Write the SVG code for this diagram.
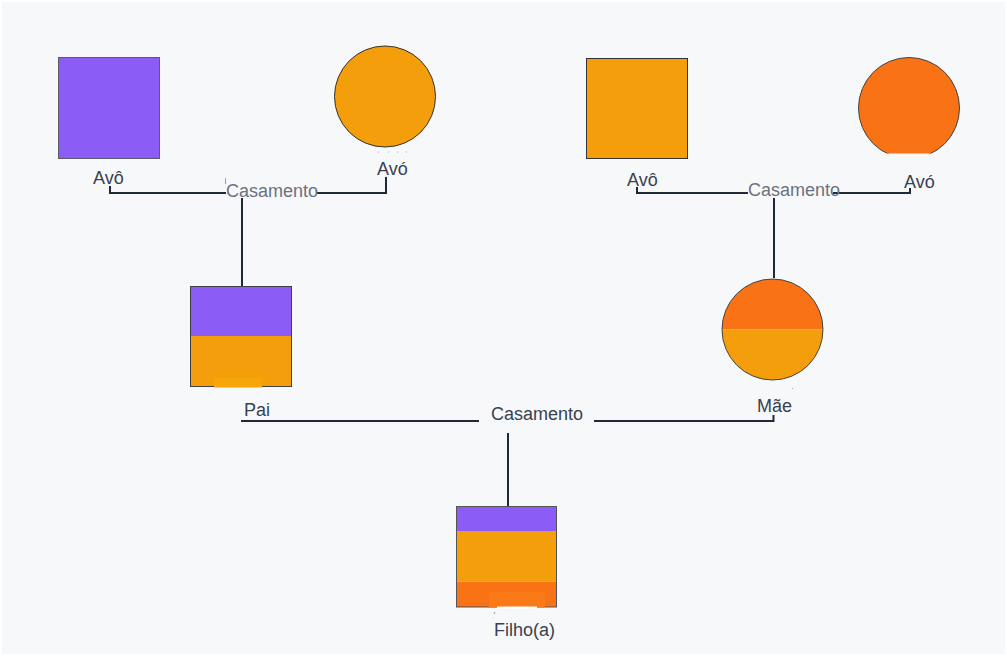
<svg xmlns="http://www.w3.org/2000/svg" width="1007" height="656" viewBox="0 0 1007 656">
  <style>
    .lbl { font-family: "Liberation Sans", Arial, sans-serif; font-size: 18px; fill: #374151; }
    .mar { font-family: "Liberation Sans", Arial, sans-serif; font-size: 18px; fill: #6b7280; }
    .mar2 { font-family: "Liberation Sans", Arial, sans-serif; font-size: 18px; fill: #374151; }
    .conn { stroke: #1f2937; stroke-width: 2; fill: none; }
    .edge { stroke: #3f3f46; stroke-width: 1; }
  </style>
  <defs>
    <clipPath id="clipMae"><circle cx="772.5" cy="329.5" r="50.5"/></clipPath>
    <clipPath id="clipAvo2"><rect x="850" y="50" width="120" height="103.5"/></clipPath>
  </defs>
  <rect x="0" y="0" width="1007" height="656" fill="#ffffff"/>
  <rect x="2" y="2" width="1003" height="652" fill="#f7f8fa"/>

  <g id="connectors">
    <path class="conn" d="M110,186 V193 H226"/>
    <path class="conn" d="M316,193 H386 V177"/>
    <path class="conn" d="M242,198 V286"/>
    <line x1="225.5" y1="178" x2="225.5" y2="184" stroke="#9ca3af" stroke-width="1"/>
    <path class="conn" d="M637,187 V193 H748"/>
    <path class="conn" d="M833,193 H910 V188"/>
    <path class="conn" d="M774,198 V278"/>
    <path class="conn" d="M241,421 H479"/>
    <path class="conn" d="M594,421 H773.5 V415"/>
    <path class="conn" d="M508,433 V506"/>
  </g>

  <g id="avo-paterno">
    <rect x="58.5" y="57.5" width="101" height="101" fill="#8b5cf6" stroke="#5b5b6b" stroke-width="1"/>
    <text class="lbl" x="93" y="183.5">Avô</text>
  </g>

  <g id="avo-paterna">
    <circle cx="385" cy="96.5" r="50.5" fill="#f59e0b" stroke="#333333" stroke-width="1"/>
    <g fill="#9ca3af">
      <rect x="378" y="151.5" width="1" height="1"/>
      <rect x="388" y="151.5" width="1" height="1"/>
      <rect x="397" y="151.5" width="1" height="1"/>
      <rect x="406" y="151.5" width="1" height="1"/>
    </g>
    <text class="lbl" x="377" y="175">Avó</text>
  </g>

  <g id="casamento-paterno">
    <text class="mar" x="226" y="197">Casamento</text>
  </g>

  <g id="avo-materno">
    <rect x="586.5" y="58.5" width="101" height="100" fill="#f59e0b" stroke="#333333" stroke-width="1"/>
    <text class="lbl" x="627" y="185.5">Avô</text>
  </g>

  <g id="avo-materna">
    <g clip-path="url(#clipAvo2)">
      <circle cx="909" cy="108" r="50.5" fill="#f97316" stroke="#444444" stroke-width="1"/>
    </g>
    <text class="lbl" x="904" y="187.5">Avó</text>
  </g>

  <g id="casamento-materno">
    <text class="mar" x="748" y="196">Casamento</text>
  </g>

  <g id="pai">
    <rect x="191" y="286" width="100" height="50" fill="#8b5cf6"/>
    <rect x="191" y="336" width="100" height="51" fill="#f59e0b"/>
    <rect x="190.5" y="286.5" width="101" height="100" fill="none" stroke="#3f3f46" stroke-width="1"/>
    <rect x="214" y="378" width="48" height="9.5" fill="#f6a609"/>
    <text class="lbl" x="244" y="415.5">Pai</text>
  </g>

  <g id="mae">
    <g clip-path="url(#clipMae)">
      <rect x="720" y="277" width="106" height="52.5" fill="#f97316"/>
      <rect x="720" y="329.5" width="106" height="53" fill="#f59e0b"/>
    </g>
    <circle cx="772.5" cy="329.5" r="50.5" fill="none" stroke="#444444" stroke-width="1"/>
    <rect x="792" y="388" width="1" height="1" fill="#9ca3af"/>
    <text class="lbl" x="757" y="411.5">Mãe</text>
  </g>

  <g id="casamento-pais">
    <text class="mar2" x="491" y="420">Casamento</text>
  </g>

  <g id="filho">
    <rect x="456" y="506" width="101" height="25" fill="#8b5cf6"/>
    <rect x="456" y="531" width="101" height="50.5" fill="#f59e0b"/>
    <rect x="456" y="581.5" width="101" height="25.5" fill="#f97316"/>
    <rect x="456.5" y="506.5" width="100" height="100.5" fill="none" stroke="#555555" stroke-width="1"/>
    <rect x="489" y="592" width="56" height="15.5" fill="#f97a16"/>
    <rect x="497" y="606.5" width="40" height="2.5" fill="#ffffff"/>
    <line x1="494" y1="614" x2="495" y2="612" stroke="#6b7280" stroke-width="0.8"/>
    <text class="lbl" x="494" y="635.5">Filho(a)</text>
  </g>
</svg>
